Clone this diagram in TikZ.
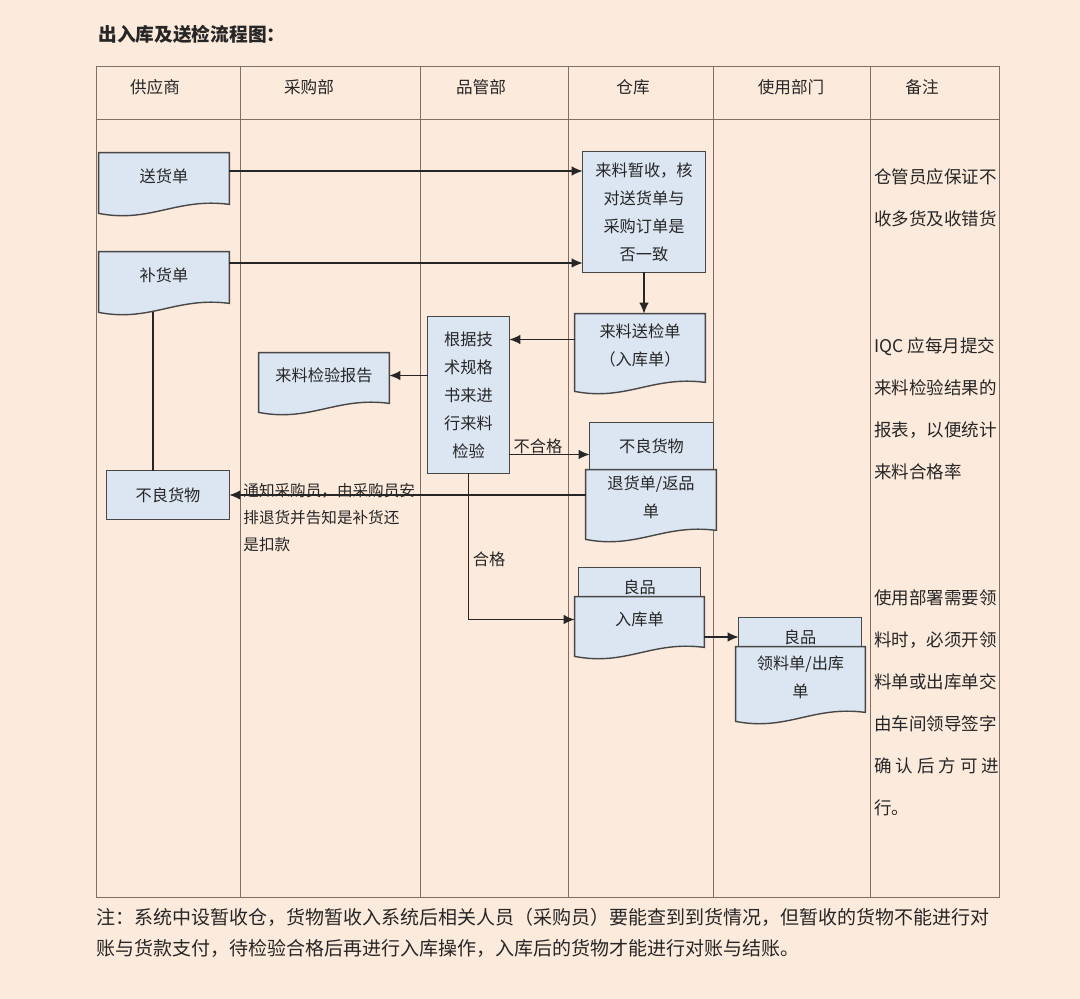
\documentclass[tikz,border=0pt]{standalone}
\usepackage{fontspec}
\setmainfont{Noto Sans CJK SC}
\usetikzlibrary{calc,arrows.meta,backgrounds}
\definecolor{pagebg}{HTML}{FCEADC}
\definecolor{boxfill}{HTML}{DCE6F2}
\definecolor{laneclr}{HTML}{7F6F66}
\definecolor{ink}{HTML}{262626}
\tikzset{
  box/.style={inner sep=0pt, align=center, font=\fontsize{8.1}{14}\selectfont, text=ink},
  arr/.style={draw=ink, line width=0.65pt, -{Latex[length=5.5pt,width=4.8pt]}},
  boxline/.style={draw=ink!85, line width=0.7pt, fill=boxfill},
  laneline/.style={draw=laneclr, line width=0.5pt},
  note/.style={inner sep=0pt, anchor=north west, align=left, font=\fontsize{8.75}{21}\selectfont, text=ink}
}
\newcommand\docshape[1]{\draw[boxline] (#1.north west) -- (#1.north east) -- ([yshift=-2.5pt]#1.south east)
  .. controls +(-53,-7) and +(52,10) .. ([yshift=-7pt]#1.south west) -- cycle;}
\newcommand\rectshape[1]{\draw[boxline] (#1.north west) rectangle (#1.south east);}

\begin{document}
\begin{tikzpicture}[x=0.5pt,y=-0.5pt]
\useasboundingbox (0,0) rectangle (1080,999);

\node[anchor=west, inner sep=0pt, text=ink, font=\fontsize{9.35}{11}\selectfont\bfseries] (title) at (98,34) {出入库及送检流程图：};
\foreach \x/\t [count=\i] in {155/供应商,309/采购部,481/品管部,633/仓库,791/使用部门,922/备注}
  \node[box, font=\fontsize{8.3}{10}\selectfont] (col\i) at (\x,87) {\t};

% boxes
\node[box, minimum width=65pt, minimum height=23pt] (songhuo) at (164,176) {送货单};
\node[box, minimum width=65pt, minimum height=23pt] (buhuo) at (164,275) {补货单};
\node[box, minimum width=61pt, minimum height=60pt] (zanshou) at (644,212) {来料暂收，核\\对送货单与\\采购订单是\\否一致};
\node[box, minimum width=65pt, minimum height=31.5pt] (songjian) at (640,345.5) {来料送检单\\（入库单）};
\node[box, minimum width=40.5pt, minimum height=78pt] (genju) at (468.5,395) {根据技\\术规格\\书来进\\行来料\\检验};
\node[box, minimum width=65pt, minimum height=22.5pt] (baogao) at (324,375.5) {来料检验报告};
\node[box, minimum width=61.5pt, minimum height=23.5pt] (buliangR) at (651.5,446.5) {不良货物};
\node[box, minimum width=65pt, minimum height=27.5pt] (tuihuo) at (651,497.5) {退货单/返品\\单};
\node[box, minimum width=61pt, minimum height=24pt] (buliangL) at (168,495) {不良货物};
\node[box, minimum width=60.5pt, minimum height=19pt] (liangpin1) at (639.5,587) {良品};
\node[box, minimum width=64.5pt, minimum height=22.5pt] (ruku) at (639.5,619.5) {入库单};
\node[box, minimum width=61pt, minimum height=19pt] (liangpin2) at (800,637) {良品};
\node[box, minimum width=64.5pt, minimum height=30pt] (lingliao) at (800.5,677) {领料单/出库\\单};

% connectors
\coordinate (s1) at ([yshift=2.5pt]songhuo.east);
\coordinate (s2) at ([yshift=6pt]buhuo.east);
\coordinate (s3) at ([yshift=3pt]songjian.west);
\coordinate (s4) at ([yshift=-4pt]buliangR.west);
\coordinate (s5) at ([xshift=-5.5pt,yshift=-7pt]buhuo.south);
\draw[arr] (s1) -- (s1 -| zanshou.west);
\draw[arr] (s2) -- (s2 -| zanshou.west);
\draw[arr] (zanshou.south) -- (zanshou.south |- songjian.north);
\draw[arr] (s3) -- (s3 -| genju.east);
\draw[arr] (baogao.east -| genju.west) -- (baogao.east);
\draw[arr] (s4 -| genju.east) -- (s4);
\draw[arr] (tuihuo.west |- buliangL.east) -- (buliangL.east);
\draw[draw=ink, line width=0.65pt] (s5) -- (s5 |- buliangL.north);
\draw[arr] (genju.south) |- (ruku.west);
\draw[arr] (ruku.east |- liangpin2.west) -- (liangpin2.west);
\node[box] (buhege) at (538,446) {不合格};
\node[box] (hege) at (489,559) {合格};
\node[box, anchor=north west, align=left, font=\fontsize{7.8}{13.5}\selectfont] (tongzhi) at (243,483)
  {通知采购员，由采购员安\\排退货并告知是补货还\\是扣款};

% remarks
\node[note] (bz1) at (874,168) {仓管员应保证不\\收多货及收错货};
\node[note] (bz2) at (874,337) {IQC 应每月提交\\来料检验结果的\\报表，以便统计\\来料合格率};
\node[note] (bz3) at (874,589) {使用部署需要领\\料时，必须开领\\料单或出库单交\\由车间领导签字\\确 认 后 方 可 进\\行。};
\node[note, font=\fontsize{9.5}{15.5}\selectfont] (zhu) at (96,908)
  {注：系统中设暂收仓，货物暂收入系统后相关人员（采购员）要能查到到货情况，但暂收的货物不能进行对\\账与货款支付，待检验合格后再进行入库操作，入库后的货物才能进行对账与结账。};

\begin{scope}[on background layer]
\fill[pagebg] (0,0) rectangle (1080,999);
\draw[laneline] (96,67) rectangle (999,897);
\draw[laneline] (96,120) -- (999,120);
\foreach \x in {240,420,568,713,870} \draw[laneline] (\x,67) -- (\x,897);
\foreach \n in {zanshou,genju,buliangR,buliangL,liangpin1,liangpin2} {\rectshape{\n}}
\foreach \n in {songhuo,buhuo,songjian,baogao,tuihuo,ruku,lingliao} {\docshape{\n}}
\end{scope}
\end{tikzpicture}
\end{document}
